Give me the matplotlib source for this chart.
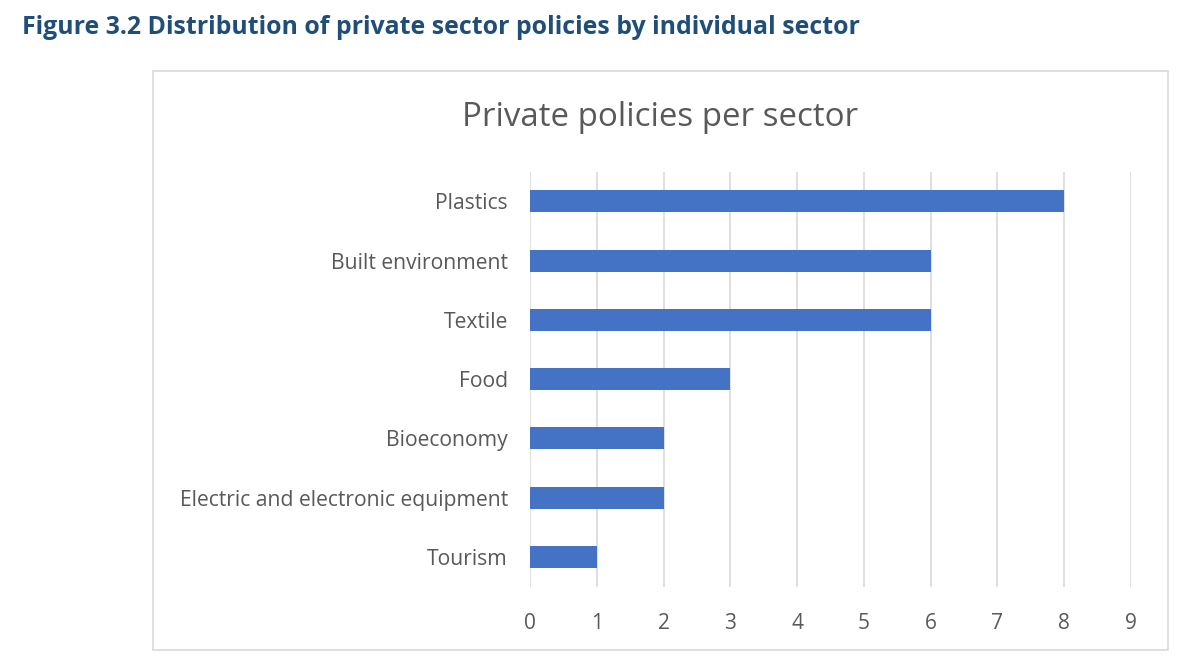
import matplotlib
matplotlib.use("Agg")
import matplotlib.pyplot as plt
from matplotlib.patches import Rectangle

# sectors listed top to bottom, as in the reference
sectors = [
    "Plastics",
    "Built environment",
    "Textile",
    "Food",
    "Bioeconomy",
    "Electric and electronic equipment",
    "Tourism",
]
policies = [8, 6, 6, 3, 2, 2, 1]
x_ticks = list(range(0, 10))

W, H = 1200, 671
plt.rcParams["font.family"] = ["Open Sans", "DejaVu Sans"]

fig = plt.figure(figsize=(W / 100, H / 100), dpi=100)

# chart frame (in pixel units converted to figure fraction)
fig.patches.append(Rectangle((153 / W, 1 - 650 / H), (1168 - 153) / W, (650 - 71) / H,
                             transform=fig.transFigure, fill=False,
                             edgecolor="#D9D9D9", linewidth=1.2))

fig.text(22 / W, 1 - 27 / H, "Figure 3.2 Distribution of private sector policies by individual sector",
         ha="left", va="center", fontsize=17.9, fontweight="bold", color="#1F4E79")
fig.text(660 / W, 1 - 117 / H, "Private policies per sector",
         ha="center", va="center", fontsize=23.8, color="#595959")

ax = fig.add_axes([530 / W, 1 - 586.7 / H, (1131 - 530) / W, (586.7 - 171.6) / H])
ypos = list(range(len(sectors)))
ax.barh(ypos, policies, height=0.37, color="#4472C4", zorder=3)
ax.set_ylim(len(sectors) - 0.5, -0.5)
ax.set_xlim(0, 9)
ax.set_yticks(ypos)
ax.set_yticklabels(sectors)
ax.set_xticks(x_ticks)
ax.grid(axis="x", color="#D9D9D9", linewidth=1.2, zorder=0)
for s in ax.spines.values():
    s.set_visible(False)
ax.tick_params(axis="y", length=0, labelsize=15.2, colors="#595959", pad=16)
ax.tick_params(axis="x", length=0, labelsize=15, colors="#595959", pad=19)

fig.savefig("out.png", dpi=100)
